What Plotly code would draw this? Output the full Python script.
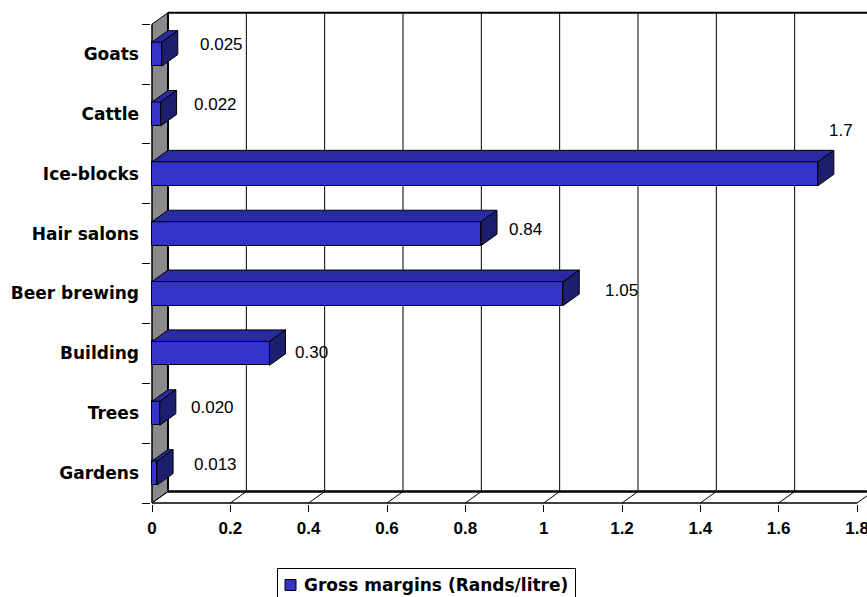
import plotly.graph_objects as go

# ---- data -------------------------------------------------------------
categories = ["Gardens", "Trees", "Building", "Beer brewing",
              "Hair salons", "Ice-blocks", "Cattle", "Goats"]
gross_margins = [0.013, 0.020, 0.30, 1.05, 0.84, 1.7, 0.022, 0.025]
value_text = ["0.013", "0.020", "0.30", "1.05", "0.84", "1.7", "0.022", "0.025"]
x_ticks = [0, 0.2, 0.4, 0.6, 0.8, 1.0, 1.2, 1.4, 1.6, 1.8]
x_tick_text = ["0", "0.2", "0.4", "0.6", "0.8", "1", "1.2", "1.4", "1.6", "1.8"]
series_name = "Gross margins (Rands/litre)"

# ---- layout geometry ----------------------------------------------------
W, H = 867, 597
PLOT_L, PLOT_T, PLOT_B = 151, 8, 504       # plot-area edges in pixels
XS = 391.67                                  # pixels per x unit
YS = 59.85                                   # pixels per category
DEPTH_PX = (16, 11.5)                        # 3-D depth offset (right, up)

x_min = -1 / XS
x_max = x_min + (W - PLOT_L) / XS
y_min = -0.5 - 1 / YS
y_max = y_min + (PLOT_B - PLOT_T) / YS
DX = DEPTH_PX[0] / XS
DY = DEPTH_PX[1] / YS
HALF = 0.2                                   # half bar thickness (category units)
N = len(categories)
y_lo, y_hi = -0.5, N - 0.5

FONT = "Arial, Liberation Sans, sans-serif"
FONT_WIDE = "DejaVu Sans, Verdana, sans-serif"
FRONT = "#3333CC"
TOP = "#2A2AA3"
SIDE = "#1E1E6E"
WALL = "#8A8A8A"

# pixel nudges for each value label (right, up)
label_offsets = [(19, 9), (13, 6), (7, 1), (24, 3.5),
                 (10, 4.6), (-7, 43), (15, 9.6), (20, 9.8)]


def px_to_paper(px, py):
    """Convert page pixels to paper coordinates of the plot area."""
    return (px - PLOT_L) / (W - PLOT_L), (PLOT_B - py) / (PLOT_B - PLOT_T)


fig = go.Figure()

# front faces of the bars
fig.add_trace(go.Bar(
    y=list(range(N)), x=gross_margins, orientation="h", width=2 * HALF,
    marker=dict(color=FRONT, line=dict(color="black", width=1)),
    name=series_name, showlegend=False, hoverinfo="skip",
))

# top and right faces, built from the same values
top_x, top_y, side_x, side_y = [], [], [], []
for i, v in enumerate(gross_margins):
    top_x += [0, v, v + DX, DX, 0, None]
    top_y += [i + HALF, i + HALF, i + HALF + DY, i + HALF + DY, i + HALF, None]
    side_x += [v, v + DX, v + DX, v, v, None]
    side_y += [i - HALF, i - HALF + DY, i + HALF + DY, i + HALF, i - HALF, None]

fig.add_trace(go.Scatter(x=top_x, y=top_y, mode="lines", fill="toself",
                         fillcolor=TOP, line=dict(color="black", width=1),
                         showlegend=False, hoverinfo="skip"))
fig.add_trace(go.Scatter(x=side_x, y=side_y, mode="lines", fill="toself",
                         fillcolor=SIDE, line=dict(color="black", width=1),
                         showlegend=False, hoverinfo="skip"))

# ---- walls, floor and gridlines ----------------------------------------
shapes = []
# grey side wall
shapes.append(dict(type="path", layer="below",
                   path=f"M 0,{y_lo} L 0,{y_hi} L {DX},{y_hi + DY} L {DX},{y_lo + DY} Z",
                   fillcolor=WALL, line=dict(color="black", width=1)))
# gridlines on the back wall
for t in x_ticks[1:]:
    shapes.append(dict(type="line", layer="below", x0=t + DX, x1=t + DX,
                       y0=y_lo + DY, y1=y_hi + DY, line=dict(color="black", width=1)))
# floor diagonals
for t in x_ticks:
    shapes.append(dict(type="line", layer="below", x0=t, x1=t + DX,
                       y0=y_lo, y1=y_lo + DY, line=dict(color="black", width=1)))
# back wall edges
shapes.append(dict(type="line", layer="below", x0=DX, x1=DX, y0=y_lo + DY, y1=y_hi + DY,
                   line=dict(color="black", width=2)))
shapes.append(dict(type="line", layer="below", x0=DX, x1=x_max, y0=y_hi + DY, y1=y_hi + DY,
                   line=dict(color="black", width=2)))
shapes.append(dict(type="line", layer="below", x0=DX, x1=x_ticks[-1] + DX,
                   y0=y_lo + DY, y1=y_lo + DY, line=dict(color="black", width=2.5)))
# front floor edge and front left edge
shapes.append(dict(type="line", layer="below", x0=0, x1=x_ticks[-1], y0=y_lo, y1=y_lo,
                   line=dict(color="black", width=1.5)))
shapes.append(dict(type="line", layer="below", x0=0, x1=0, y0=y_lo, y1=y_hi,
                   line=dict(color="black", width=1)))

# ---- legend box (drawn in paper space below the axis) -----------------
bx0, by0 = px_to_paper(277.5, 568.5)
bx1, by1 = px_to_paper(575.5, 602)
shapes.append(dict(type="rect", xref="paper", yref="paper", x0=bx0, x1=bx1,
                   y0=by1, y1=by0, fillcolor="white", line=dict(color="black", width=1)))
mx0, my0 = px_to_paper(285, 579.5)
mx1, my1 = px_to_paper(296, 590.5)
shapes.append(dict(type="rect", xref="paper", yref="paper", x0=mx0, x1=mx1,
                   y0=my1, y1=my0, fillcolor=FRONT, line=dict(color="black", width=1)))

# ---- value labels ------------------------------------------------------
annotations = []
for i, (v, txt) in enumerate(zip(gross_margins, value_text)):
    ox, oy = label_offsets[i]
    annotations.append(dict(x=v + DX, y=i, xref="x", yref="y", text=txt,
                            showarrow=False, xanchor="left", yanchor="middle",
                            xshift=ox, yshift=oy,
                            font=dict(family=FONT, size=17, color="black")))

tx, ty = px_to_paper(302, 585)
annotations.append(dict(x=tx, y=ty, xref="paper", yref="paper", text=series_name,
                        showarrow=False, xanchor="left", yanchor="middle",
                        font=dict(family=FONT_WIDE, size=17, color="black",
                                  weight="bold")))

fig.update_layout(
    width=W, height=H,
    margin=dict(l=PLOT_L, r=0, t=PLOT_T, b=H - PLOT_B, pad=0, autoexpand=False),
    paper_bgcolor="white", plot_bgcolor="white",
    shapes=shapes, annotations=annotations,
    bargap=0, showlegend=False,
    xaxis=dict(range=[x_min, x_max], tickvals=x_ticks, ticktext=x_tick_text,
               showgrid=False, zeroline=False, showline=False,
               ticks="outside", ticklen=7, tickcolor="black", tickwidth=1,
               ticklabelstandoff=2, ticklabeloverflow="allow",
               tickfont=dict(family=FONT, size=17, color="black", weight="bold"),
               fixedrange=True),
    yaxis=dict(range=[y_min, y_max], tickvals=list(range(N)), ticktext=categories,
               showgrid=False, zeroline=False, showline=False, ticks="",
               minor=dict(tickvals=[k - 0.5 for k in range(N + 1)], ticks="outside",
                          ticklen=8, tickcolor="black", tickwidth=1, showgrid=False),
               ticklabelstandoff=11,
               tickfont=dict(family=FONT_WIDE, size=17, color="black", weight="bold"),
               fixedrange=True),
)

fig.write_html("out.html")
